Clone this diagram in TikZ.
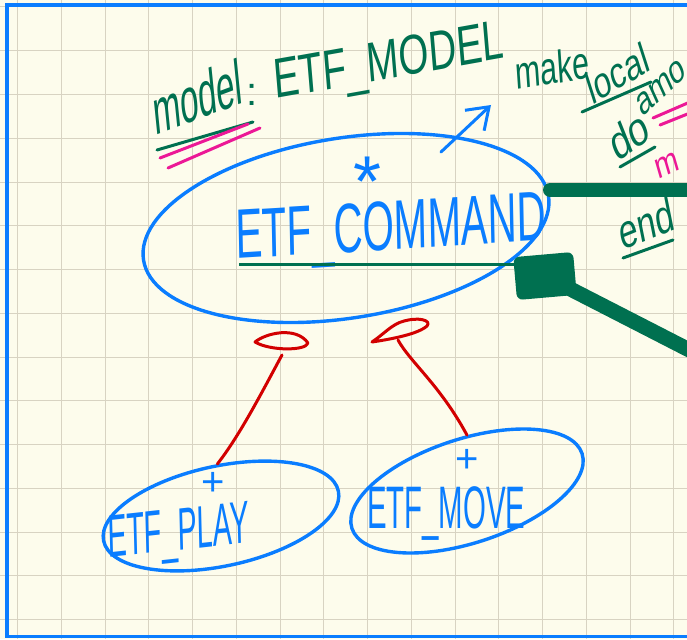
\documentclass[tikz,border=0pt]{standalone}
\usepackage{fontspec}
\setmainfont{Liberation Sans}
\usetikzlibrary{arrows.meta,shapes.geometric}

\definecolor{paper}{RGB}{253,252,236}
\definecolor{gridc}{RGB}{216,211,194}
\definecolor{pen}{RGB}{10,125,255}
\definecolor{ink}{RGB}{0,112,80}
\definecolor{marker}{RGB}{236,24,150}
\definecolor{redpen}{RGB}{210,0,0}

\begin{document}
\begin{tikzpicture}[x=1pt,y=-1pt,
	cls/.style={draw=pen, line width=3.4pt, ellipse, inner sep=0pt},
	hand/.style={inner sep=0pt, font=\fontsize{#1}{#1}\selectfont},
	inh/.style={draw=redpen, line width=3pt, line cap=round, line join=round},
	uline/.style={line width=3pt, line cap=round}]
	\useasboundingbox (0,0) rectangle (687,639);
	\clip (0,0) rectangle (687,639);
	\fill[paper] (0,0) rectangle (687,639);
	% squared paper
	\foreach \k in {0,...,15} \draw[gridc, line width=1pt] (17.5+43.75*\k,0) -- (17.5+43.75*\k,639);
	\foreach \k in {0,...,14} \draw[gridc, line width=1pt] (0,7+43.75*\k) -- (687,7+43.75*\k);
	\draw[pen, line width=3.8pt] (700,5) -- (6.7,5) -- (6.7,636.5) -- (700,636.5);

	% classes
	\node[cls, minimum width=410, minimum height=180, rotate=9] (cmd) at (346,228) {};
	\node[cls, minimum width=240, minimum height=100, rotate=12] (play) at (221,516) {};
	\node[cls, minimum width=242, minimum height=104, rotate=18] (move) at (467,491) {};

	\node[hand=70, text=pen, anchor=base west, xscale=0.575, rotate=2] (cmdname) at (236,259) {ETF\_COMMAND};
	\node[hand=72, text=pen] (cmdstar) at (368,182) {*};
	\node[hand=60, text=pen, anchor=base west, xscale=0.48, rotate=3] (playname) at (108,558) {ETF\_PLAY};
	\node[hand=40, text=pen] (playplus) at (213,484) {+};
	\node[hand=60, text=pen, anchor=base west, xscale=0.49] (movename) at (367,528) {ETF\_MOVE};
	\node[hand=40, text=pen] (moveplus) at (467,461) {+};

	% inheritance
	\draw[inh] (255,342) .. controls (266,333) and (296,326) .. (308,343) .. controls (306,351) and (270,351) .. (255,342) -- cycle;
	\draw[inh] (372,342) .. controls (384,334) and (392,324) .. (404,321) .. controls (418,317) and (432,320) .. (427,326) .. controls (418,334) and (392,339) .. (372,342) -- cycle;
	\coordinate (up1) at (282,355);
	\coordinate (up2) at (398,340);
	\draw[inh] (up1) .. controls (262,392) and (240,435) .. (play.82);
	\draw[inh] (up2) .. controls (410,362) and (440,385) .. (move.72);

	% attribute
	\node[hand=64, text=ink, anchor=base west, xscale=0.52, rotate=11] (attr) at (155,136) {model};
	\node[hand=40, text=ink] (colon) at (252,95) {:};
	\node[hand=56, text=ink, anchor=base west, xscale=0.69, rotate=7] (attrtype) at (275,99) {ETF\_MODEL};
	\draw[ink, uline] (157,150) -- (253,122);
	\draw[marker, uline] (160,158) -- (248,124);
	\draw[marker, uline] (168,168) -- (260,128);

	\coordinate (from) at (441,152);
	\coordinate (to) at (491,105);
	\draw[pen, line width=3pt, line cap=round, -{Straight Barb[length=20pt, width=28pt, line width=3pt]}] (from) -- (to);

	% notes on the right
	\node[hand=46, text=ink, anchor=base west, xscale=0.66, rotate=6] (make) at (516,90) {make};
	\node[hand=44, text=ink, anchor=base west, xscale=0.72, rotate=24] (local) at (592,106) {local};
	\draw[ink, uline] (582,112) -- (651,82);
	\node[hand=48, text=ink, anchor=base west, xscale=0.75, rotate=28] (do) at (617,163) {do};
	\draw[ink, uline] (620,167) -- (655,147);
	\node[hand=40, text=ink, anchor=base west, xscale=0.7, rotate=33] (amo) at (642,118) {amo};
	\draw[marker, uline] (653,118) -- (690,102);
	\draw[marker, uline] (660,125) -- (690,113);
	\node[hand=36, text=marker, anchor=base west, xscale=0.8, rotate=20] (mnote) at (658,180) {m};
	\node[hand=48, text=ink, anchor=base west, xscale=0.7, rotate=16] (endnote) at (622,251) {end};
	\draw[ink, uline] (623,258) -- (673,240);

	% green links
	\draw[ink, line width=14pt, line cap=round] (550,190) -- (720,190);
	\node[fill=ink, rounded corners=6pt, minimum width=60, minimum height=43, inner sep=0pt, rotate=5] (link) at (545,276) {};
	\coordinate (cmdul) at (239,264);
	\draw[ink, line width=3pt] (cmdul) -- (cmdul -| link.west);
	\coordinate (off) at (740,376);
	\draw[ink, line width=15pt] (link.center) -- (off);
\end{tikzpicture}
\end{document}
